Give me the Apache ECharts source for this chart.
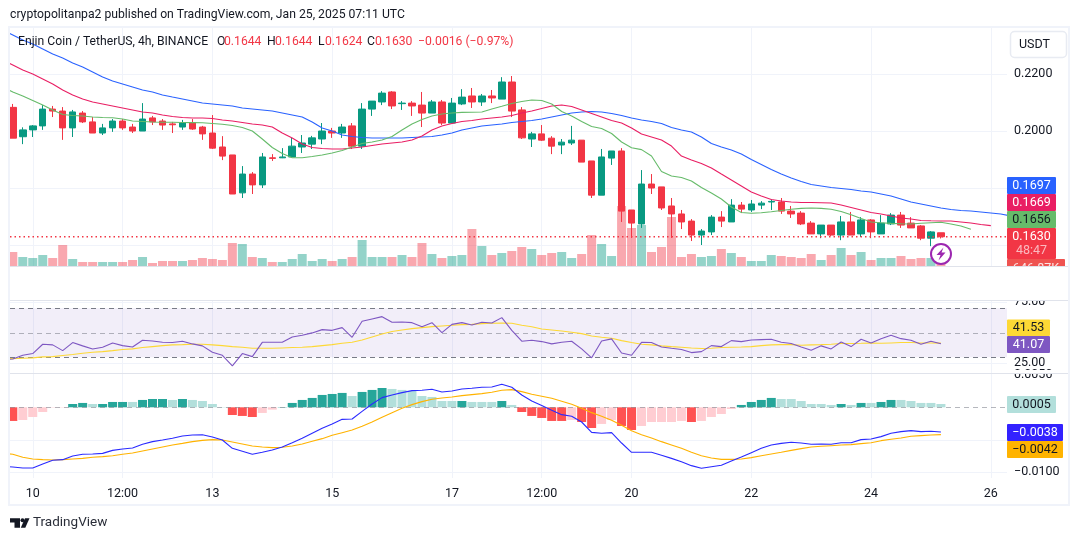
<!DOCTYPE html>
<html>
<head>
<meta charset="utf-8">
<style>html,body{margin:0;padding:0;background:#fff}#c{width:1080px;height:541px}</style>
<script src="https://cdn.jsdelivr.net/npm/echarts@6/dist/echarts.min.js"></script>
</head>
<body>
<div id="c"></div>
<script>
const tickSlots = [2,11,20,32,44,53,62,74,86,98];
const tickLabels = ['10','12:00','13','15','17','12:00','20','22','24','26'];

const opens = [.2084,.1981,.2005,.2019,.2078,.2071,.2012,.2064,.2033,.1994,
.2012,.2036,.2015,.2001,.2047,.2036,.2026,.2015,.2029,.2015,
.1994,.1945,.1917,.1784,.1850,.1812,.1907,.1907,.1910,.1945,
.1955,.1973,.2001,.1994,.2019,.1948,.2078,.2103,.2138,.2097,
.2099,.2092,.2064,.2103,.2029,.2096,.2124,.2103,.2124,.2113,
.2173,.2075,.1973,.1991,.1976,.1952,.1959,.1969,.1896,.1776,
.1906,.1931,.1724,.1675,.1815,.1805,.1738,.1710,.1685,.1636,
.1647,.1699,.1682,.1741,.1724,.1741,.1752,.1752,.1720,.1713,
.1678,.1640,.1671,.1636,.1682,.1640,.1689,.1640,.1675,.1706,
.1678,.1668,.1625,.1644];
const closes = [.1976,.2005,.2019,.2078,.2071,.2012,.2068,.2033,.1994,.2012,
.2036,.2012,.2001,.2043,.2033,.2022,.2023,.2029,.2008,.1991,
.1941,.1913,.1780,.1850,.1812,.1910,.1905,.1910,.1948,.1959,
.1977,.2001,.1994,.2015,.1948,.2078,.2106,.2134,.2089,.2099,
.2089,.2064,.2103,.2029,.2099,.2120,.2103,.2124,.2117,.2173,
.2071,.1977,.1991,.1969,.1948,.1962,.1969,.1892,.1776,.1910,
.1931,.1720,.1678,.1815,.1801,.1731,.1710,.1682,.1636,.1650,
.1699,.1685,.1741,.1727,.1745,.1748,.1754,.1720,.1710,.1675,
.1640,.1671,.1636,.1682,.1636,.1689,.1647,.1678,.1706,.1671,
.1661,.1625,.1647,.1630];
const highs = [.2096,.2014,.2022,.2092,.2089,.2085,.2075,.2071,.2050,.2026,
.2043,.2043,.2026,.2099,.2054,.2043,.2033,.2040,.2043,.2019,
.2057,.1983,.1917,.1878,.1857,.1924,.1920,.1941,.1977,.1987,
.1984,.2029,.2012,.2026,.2029,.2099,.2106,.2141,.2141,.2106,
.2106,.2138,.2110,.2110,.2117,.2148,.2152,.2131,.2145,.2190,
.2194,.2085,.1998,.2022,.1983,.1973,.2019,.1969,.1896,.1938,
.1931,.1941,.1724,.1864,.1850,.1805,.1766,.1724,.1692,.1657,
.1706,.1720,.1762,.1752,.1759,.1755,.1762,.1766,.1738,.1720,
.1685,.1671,.1671,.1703,.1717,.1699,.1692,.1706,.1713,.1717,
.1699,.1671,.1650,.1644];
const lows = [.1976,.1955,.1980,.2005,.2050,.1970,.1980,.2029,.1994,.1987,
.1998,.2005,.1994,.2001,.2022,.2005,.1994,.2005,.2005,.1970,
.1938,.1899,.1780,.1766,.1780,.1801,.1896,.1906,.1910,.1924,
.1938,.1955,.1977,.1977,.1938,.1938,.2054,.2092,.2078,.2075,
.2054,.2015,.2064,.2022,.2029,.2092,.2082,.2089,.2099,.2113,
.2050,.1973,.1945,.1966,.1920,.1920,.1952,.1892,.1766,.1776,
.1882,.1682,.1626,.1661,.1780,.1724,.1626,.1657,.1615,.1601,
.1636,.1664,.1682,.1713,.1717,.1727,.1724,.1710,.1696,.1671,
.1640,.1625,.1632,.1618,.1636,.1629,.1625,.1640,.1671,.1661,
.1661,.1618,.1597,.1624];

const volumes = [4.2,2.7,2.4,3.3,2.4,6.3,2.1,1.2,1.2,1.2,
1.2,1.2,1.8,2.7,.9,1.5,1.5,1.5,1.8,2.4,
2.1,1.8,6.9,6.6,2.7,2.4,1.2,1.2,2.1,3.6,
1.5,2.1,1.5,2.1,2.7,7.8,2.7,2.7,2.7,3.3,
2.7,6.9,3.6,2.4,3,3.3,11.1,6,3.3,3.9,
4.5,5.7,5.1,3.3,3.9,4.2,2.4,3.6,9.3,6.6,
3,18,11.4,12.3,4.2,5.7,14.7,2.7,3.6,2.7,
3,5.1,3.9,2.7,1.5,1.5,3.3,3,2.7,2.4,
3.6,1.8,3.3,5.4,3.3,4.2,1.8,2.4,2.4,3,
2.1,2.4,2.4,.65];

// Williams Alligator, shifted forward: first value sits one slot before the first candle
const jaw = [.23554,.23379,.23203,.23063,.22888,.22712,.22572,.22396,.22256,.22081,.21905,
.21765,.2166,.21554,.21449,.21379,.21274,.21203,.21133,.21063,.20993,
.20958,.20923,.20888,.20817,.20782,.20747,.20712,.20642,.20572,.20502,
.20326,.20116,.20011,.1987,.19817,.19782,.19765,.19765,.19765,.19765,
.19782,.198,.19817,.1987,.1994,.20046,.20116,.20186,.20221,.20256,
.20309,.20344,.20379,.20432,.20502,.20572,.20642,.20677,.20695,.20677,
.20624,.20554,.20467,.20396,.20344,.20274,.20133,.20046,.19975,.198,
.19572,.19449,.19344,.19203,.1901,.18835,.1866,.18501,.18361,.18239,
.18133,.18081,.18028,.17993,.17958,.17905,.1787,.178,.1773,.17625,
.17519,.17449,.17379,.17309,.17256,.17221,.17203,.17168,.17133,.17098,
.17028,.1697];
const teeth = [.22502,.22326,.22151,.2201,.21835,.2166,.21449,.21274,.21133,.21028,.20958,
.20888,.20817,.20747,.20677,.20642,.20572,.20519,.20484,.20467,.20467,
.20449,.20396,.20361,.20309,.20256,.20221,.20151,.1994,.19765,.19554,
.19432,.19396,.19379,.19379,.19414,.19449,.19502,.19554,.19589,.19625,
.19695,.19835,.20046,.20186,.20274,.20344,.20379,.20432,.20467,.20502,
.20554,.20642,.20712,.208,.20888,.20923,.2087,.20747,.20624,.20502,
.20379,.20291,.20116,.19905,.198,.19695,.19484,.19133,.18993,.1887,
.18712,.18501,.18291,.18081,.1787,.1773,.17607,.17554,.17519,.17502,
.17502,.17495,.17484,.17414,.17326,.17238,.1715,.17098,.17028,.16958,
.16923,.1687,.1686,.16853,.16853,.16818,.16783,.1673,.1669];
const lips = [.21554,.21379,.21239,.21081,.20923,.20747,.20589,.20554,.20537,.20502,.20484,
.20477,.20432,.20361,.20344,.20326,.20319,.20316,.20309,.20305,.20298,
.20274,.20246,.20203,.20133,.20011,.1973,.19432,.19221,.19074,.19074,
.19116,.19168,.19239,.19326,.19449,.19572,.19625,.19695,.19817,.20046,
.20256,.20414,.20537,.20607,.20642,.20663,.20667,.20677,.20782,.20877,
.20975,.21046,.21098,.21081,.20958,.20695,.20537,.20344,.20168,.20098,
.19923,.19625,.19425,.19358,.19133,.18589,.18431,.18379,.18256,.18028,
.17835,.17625,.17344,.17151,.17123,.1714,.17175,.17221,.17267,.17295,
.17309,.17295,.17267,.17186,.17073,.1694,.16817,.16789,.16768,.16754,
.16747,.16772,.16793,.16807,.16747,.16677,.1656];

// indicator lines also start one slot before the first candle
const rsi = [27.8,28.6,31.6,33,40.6,40.1,35.4,42,39.3,36.8,38.2,
41.7,39.5,38.4,43.9,43.3,42.2,42,43.1,40.9,39.3,
34.1,31.6,22.9,33,30.5,42.2,42.2,42.2,46.6,48,
49.9,52.6,52,54.2,46.3,59.4,61.3,63.2,58.6,58.8,
58.3,55,58.3,50.1,56.9,58.3,56.4,58.6,58,62.4,
52,43.1,43.9,42.8,40.9,42.2,43.1,36.8,29.5,43.3,
45,33.5,31.6,42.2,42,38.4,37.3,36.3,33.8,34.6,
39.5,38.7,43.6,42.8,44.1,44.4,44.7,42.2,41.2,38.4,
35.7,39.3,36.8,42.5,38.7,44.7,41.7,45.2,48,45.2,
43.9,40.6,43.1,41.07];
const rsiAvg = [28.8,28.9,29.2,29.5,30.3,30.5,31.4,32.2,33.3,34.1,34.6,
35.4,36.3,36.8,37.9,38.7,39.5,40.1,40.3,40.6,40.6,
40.1,39.5,38.7,38.2,37.3,37.3,37.3,37.6,37.9,38.2,
38.7,39.5,40.3,41.4,42.2,44.1,46.6,49,51,52.3,
53.4,54.2,55,55.6,56.1,56.7,56.9,57.5,57.8,58,
57.8,56.1,55,53.1,52.3,51.5,50.4,49.3,47.4,46.3,
45.5,43.6,42,40.6,40.1,39.3,38.7,38.2,37.6,37.1,
37.3,37.9,38.2,38.4,38.7,39.5,40.1,40.3,40.3,39.8,
40.1,40.3,40.6,41.2,41.2,41.4,41.7,41.4,41.7,42,
42,41.7,41.7,41.53];

const macdHist = [-.0021,-.00195,-.00149,-.00072,-.00005,-.00005,.00051,.00067,.00051,.00051,
.00082,.00082,.00082,.00113,.00128,.00128,.00113,.00128,.00113,.00097,
.00051,.00005,-.00118,-.00133,-.00149,-.00087,-.00036,.00005,.00067,.00113,
.00144,.0019,.00205,.00221,.00174,.00236,.00267,.00297,.00282,.00267,
.00251,.00174,.00159,.00097,.00097,.00097,.00082,.00082,.00082,.00097,
.00036,-.00072,-.00133,-.00164,-.0021,-.0021,-.00195,-.00226,-.00318,-.00256,
-.00195,-.00287,-.00349,-.00287,-.00226,-.00226,-.00226,-.0021,-.00226,-.0021,
-.00149,-.00103,-.00026,.00036,.00082,.00113,.00144,.00128,.00128,.00097,
.00051,.00051,.00036,.00051,.00036,.00067,.00067,.00082,.00113,.00113,
.00097,.00067,.00067,.00051];
const macdHistStrong = [1,0,0,0,0,0,1,1,0,1,1,1,0,1,1,1,0,1,0,0,0,0,1,1,1,0,0,1,1,1,
1,1,1,1,0,1,1,1,0,0,0,0,0,0,0,1,0,0,0,1,0,1,1,1,1,1,0,1,1,0,
0,1,1,0,0,0,0,0,1,0,0,0,0,1,1,1,1,0,0,0,0,0,0,1,0,1,0,1,1,0,
0,0,0,0];
const macdLine = [-.00908,-.00918,-.00933,-.00933,-.00872,-.00815,-.00805,-.00749,-.00723,-.00718,-.00708,
-.00662,-.00641,-.00626,-.00569,-.00528,-.00503,-.00477,-.00441,-.00426,-.00421,
-.00456,-.00503,-.00631,-.00677,-.00723,-.00692,-.00656,-.0061,-.00544,-.00477,
-.004,-.00323,-.00256,-.00185,-.00179,-.00062,.00051,.00149,.0019,.00226,
.00256,.00262,.00277,.00236,.00251,.00282,.00292,.00308,.00313,.00354,
.00308,.0019,.00097,.00026,-.00046,-.00113,-.00138,-.00226,-.00385,-.004,
-.0039,-.00549,-.00692,-.00692,-.00692,-.00738,-.00785,-.00836,-.00897,-.00938,
-.00913,-.00892,-.00826,-.00764,-.00697,-.00631,-.00579,-.00554,-.00538,-.00549,
-.00569,-.00564,-.00569,-.00544,-.00544,-.00497,-.00487,-.00451,-.004,-.00374,
-.00359,-.00374,-.00369,-.0038];
const macdSignal = [-.00703,-.00723,-.00769,-.00795,-.00805,-.0081,-.00805,-.00795,-.00785,-.00769,-.00759,
-.00744,-.00723,-.00703,-.00672,-.00641,-.0061,-.00579,-.00554,-.00528,-.00508,
-.00497,-.00503,-.00533,-.00564,-.00595,-.0061,-.0062,-.00615,-.00595,-.00564,
-.00523,-.00482,-.00431,-.0039,-.00349,-.00292,-.00226,-.00154,-.00082,-.00015,
.00041,.00087,.00123,.00144,.00159,.00179,.00195,.0021,.00231,.00262,
.00272,.00241,.002,.00169,.00138,.00092,.00046,-.00015,-.00082,-.00138,
-.002,-.00277,-.00359,-.00421,-.00472,-.00528,-.00579,-.00631,-.00692,-.00744,
-.00779,-.008,-.008,-.00795,-.00774,-.00744,-.00718,-.00692,-.00662,-.00636,
-.0061,-.006,-.0059,-.00579,-.00574,-.00559,-.00544,-.00513,-.00492,-.00472,
-.00446,-.00436,-.00426,-.0042];

const priceLabels = [0.22, 0.2];
const priceGrid = [0.22, 0.2, 0.18, 0.16];
const rsiLabels = [75, 25];
const macdLabels = [0.005, -0.01];
const macdGrid = [-0.005, -0.01];

const UP = '#089981', DOWN = '#F23645', GRID = '#f0f3fa', INK = '#131722', FONT = 'Roboto, sans-serif';
const LEFT = 10, RIGHT = 73, LINE_W = 1.1, HEAD = 12.2;
const XMIN = -0.28, XMAX = 99.62;

function xAxis(gridIndex, opts) {
  return Object.assign({
    type: 'value', gridIndex, min: XMIN, max: XMAX,
    axisLine: {show:false},
    axisTick: {show:false, customValues: tickSlots},
    axisLabel: {show:false},
    splitLine: {show:true, lineStyle:{color:GRID, width:1}}
  }, opts || {});
}
function yAxis(gridIndex, min, max, grid, labels, fmt) {
  return {
    type:'value', gridIndex, min, max, position:'right', scale:true,
    axisLine:{show:false},
    axisTick:{show:false, customValues:grid},
    axisLabel:{show:!!labels, customValues:labels||undefined, color:INK, fontFamily:FONT, fontSize:12.5, margin:7, padding:[2,0,0,0], formatter:fmt},
    splitLine:{show:true, lineStyle:{color:GRID, width:1}}
  };
}
const pts = (arr, start) => arr.map((v,i)=>[i+start, v]);
function line(name, arr, start, color, xi, yi, z) {
  return {name, type:'line', xAxisIndex:xi, yAxisIndex:yi, data:pts(arr,start), showSymbol:false, symbol:'none',
    lineStyle:{color, width:LINE_W}, itemStyle:{color}, z:z||5, silent:true, animation:false};
}

function tag(cfg) {
  const els = [{type:'rect', shape:{x:cfg.x, y:cfg.y, width:cfg.w, height:cfg.h, r:1}, style:{fill:cfg.bg}, z:50}];
  (cfg.texts||[]).forEach(t=>els.push({type:'text', z:51, style:{x:cfg.x+cfg.w/2, y:t.y, text:t.text, fill:t.fill, font:'12.5px '+FONT, textAlign:'center', textVerticalAlign:'middle'}}));
  return els;
}
function txt(x,y,text,fill,size,extra){
  return Object.assign({type:'text', z:51, style:{x,y,text,fill:fill||INK,font:(size||12)+'px '+FONT,textAlign:'left',textVerticalAlign:'middle'}},extra||{});
}
const graphics = [].concat(
  tag({x:1007,y:259,w:58,h:8,bg:'#EF5350',texts:[]}),
  tag({x:1007,y:177,w:49,h:17,bg:'#2962FF',texts:[{y:185.5,text:'0.1697',fill:'#fff'}]}),
  tag({x:1007,y:194,w:49,h:17,bg:'#E91E63',texts:[{y:202.5,text:'0.1669',fill:'#fff'}]}),
  tag({x:1007,y:211,w:49,h:17,bg:'#66BB6A',texts:[{y:219.5,text:'0.1656',fill:INK}]}),
  tag({x:1007,y:228,w:49,h:31,bg:'#F23645',texts:[{y:236.7,text:'0.1630',fill:'#fff'},{y:251,text:'48:47',fill:'rgba(255,255,255,0.65)'}]}),
  tag({x:1007,y:319.5,w:43,h:16.5,bg:'#FDD835',texts:[{y:328,text:'41.53',fill:INK}]}),
  tag({x:1007,y:336,w:43,h:17,bg:'#7E57C2',texts:[{y:344.7,text:'41.07',fill:'#fff'}]}),
  tag({x:1007,y:396,w:49,h:17,bg:'#B2DFDB',texts:[{y:404.6,text:'0.0005',fill:INK}]}),
  tag({x:1007,y:424,w:56,h:17,bg:'#3322FF',texts:[{y:432.7,text:'\u22120.0038',fill:'#fff'}]}),
  tag({x:1007,y:441,w:56,h:17,bg:'#FFB300',texts:[{y:450,text:'\u22120.0042',fill:INK}]}),
  [
   {type:'text', z:52, style:{x:1036,y:262,text:'646.87K',fill:'rgba(255,255,255,0.85)',font:'12.5px '+FONT,textAlign:'center',textVerticalAlign:'top'}},
   {type:'rect', z:53, shape:{x:1007,y:266.5,width:62,height:14}, style:{fill:'#fff'}},
   {type:'rect', z:30, shape:{x:1010,y:290,width:58,height:10.5}, style:{fill:'#fff'}},
   {type:'rect', z:30, shape:{x:1010,y:370,width:58,height:3.5}, style:{fill:'#fff'}},
   {type:'line', z:54, shape:{x1:10,y1:266.5,x2:1069,y2:266.5}, style:{stroke:'#e0e3eb',lineWidth:1}},
   {type:'line', z:54, shape:{x1:10,y1:300.5,x2:1069,y2:300.5}, style:{stroke:'#e0e3eb',lineWidth:1}},
   {type:'line', z:54, shape:{x1:10,y1:373.5,x2:1069,y2:373.5}, style:{stroke:'#e0e3eb',lineWidth:1}},
   {type:'rect', z:55, shape:{x:9,y:27,width:1060,height:478}, style:{fill:'none',stroke:GRID,lineWidth:2}},
   {type:'rect', z:45, shape:{x:1010.5,y:31.5,width:56,height:26,r:4}, style:{fill:'#fff',stroke:'#e8ebf2',lineWidth:1.5}},
   txt(1019,45,'USDT',INK,12.5),
   txt(10,15,'cryptopolitanpa2 published on TradingView.com, Jan 25, 2025 07:11 UTC',INK,HEAD),
   txt(18,42,'Enjin Coin / TetherUS, 4h, BINANCE',INK,HEAD),
   txt(217,42,'O',INK,HEAD), txt(224,42,'0.1644',DOWN,HEAD),
   txt(267,42,'H',INK,HEAD), txt(275,42,'0.1644',DOWN,HEAD),
   txt(318,42,'L',INK,HEAD), txt(325,42,'0.1624',DOWN,HEAD),
   txt(367,42,'C',INK,HEAD), txt(375,42,'0.1630',DOWN,HEAD),
   txt(418,42,'\u22120.0016 (\u22120.97%)',DOWN,HEAD),
   {type:'circle', z:46, shape:{cx:941,cy:254,r:10}, style:{fill:'#fff',stroke:'#9C27B0',lineWidth:2}},
   {type:'polygon', z:47, shape:{points:[[943.5,247.5],[936.5,255],[940.5,255],[938.5,260.5],[945.5,252.5],[941.5,252.5]]}, style:{fill:'#9C27B0'}},
   {type:'polygon', z:47, shape:{points:[[10,518.3],[20,518.3],[20,527.7],[14.5,527.7],[14.5,522.5],[10,522.5]]}, style:{fill:INK}},
   {type:'circle', z:47, shape:{cx:22.5,cy:520.3,r:2}, style:{fill:INK}},
   {type:'polygon', z:47, shape:{points:[[25,518.3],[29.5,518.3],[25.3,527.7],[20.8,527.7]]}, style:{fill:INK}},
   txt(33,523,'TradingView','#2a2e39',13.5)
  ]
);

const candleData = opens.map((o,i)=>[i,o,closes[i],lows[i],highs[i]]);
const volData = volumes.map((v,i)=>({value:[i,v], itemStyle:{color: closes[i]>=opens[i]?'rgba(8,153,129,0.43)':'rgba(242,54,69,0.43)'}}));
const histData = macdHist.map((v,i)=>{
  const strong = macdHistStrong[i];
  const c = v>=0 ? (strong?'#26A69A':'#B2DFDB') : (strong?'#FF5252':'#FFCDD2');
  return {value:[i,v], itemStyle:{color:c}};
});
const lastClose = closes[closes.length-1];

const option = {
  animation:false,
  backgroundColor:'#fff',
  textStyle:{fontFamily:FONT},
  grid:[
    {left:LEFT,right:RIGHT,top:28,height:238},
    {left:LEFT,right:RIGHT,top:166,height:100},
    {left:LEFT,right:RIGHT,top:301,height:72},
    {left:LEFT,right:RIGHT,top:374,height:104}
  ],
  xAxis:[
    xAxis(0),
    xAxis(1,{splitLine:{show:false}}),
    xAxis(2),
    xAxis(3,{axisLabel:{show:true,customValues:tickSlots,color:INK,fontFamily:FONT,fontSize:12.5,margin:9,
      formatter:v=>tickLabels[tickSlots.indexOf(v)]||''}})
  ],
  yAxis:[
    yAxis(0,0.15274,0.23625,priceGrid,priceLabels,v=>v.toFixed(4)),
    {type:'value',gridIndex:1,min:0,max:30,show:false,splitLine:{show:false}},
    yAxis(2,17.1,76,rsiLabels,rsiLabels,v=>v.toFixed(2)),
    yAxis(3,-0.01087,0.00512,macdGrid,macdLabels,v=>(v<0?'\u2212':'')+Math.abs(v).toFixed(4))
  ],
  series:[
    {name:'Volume',type:'bar',xAxisIndex:1,yAxisIndex:1,data:volData,barWidth:9,z:2,silent:true},
    {name:'Last price',type:'line',xAxisIndex:0,yAxisIndex:0,data:[[XMIN,lastClose],[XMAX,lastClose]],showSymbol:false,symbol:'none',z:4,silent:true,
      lineStyle:{color:DOWN,width:1.3,type:[1.5,3]},itemStyle:{color:DOWN}},
    {name:'ENJUSDT',type:'candlestick',xAxisIndex:0,yAxisIndex:0,data:candleData,encode:{x:0,y:[1,2,3,4]},barWidth:7,z:3,silent:true,
      itemStyle:{color:UP,color0:DOWN,borderColor:UP,borderColor0:DOWN,borderWidth:1}},
    line('Jaw',jaw,-1,'#2962FF',0,0),
    line('Teeth',teeth,-1,'#E91E63',0,0),
    line('Lips',lips,-1,'#66BB6A',0,0),
    Object.assign(line('RSI',rsi,-1,'#7E57C2',2,2,6),{
      markArea:{silent:true,animation:false,itemStyle:{color:'rgba(126,87,194,0.1)'},data:[[{yAxis:70},{yAxis:30}]]},
      markLine:{silent:true,symbol:'none',label:{show:false},animation:false,
        data:[{yAxis:70,lineStyle:{color:'#787B86',type:[5,4],width:1}},
              {yAxis:50,lineStyle:{color:'rgba(120,123,134,0.55)',type:[5,4],width:1}},
              {yAxis:30,lineStyle:{color:'#787B86',type:[5,4],width:1}}]}
    }),
    line('RSI MA',rsiAvg,-1,'#FDD835',2,2,5),
    {name:'Histogram',type:'bar',xAxisIndex:3,yAxisIndex:3,data:histData,barWidth:9,z:2,silent:true,
      markLine:{silent:true,symbol:'none',label:{show:false},animation:false,
        lineStyle:{color:'rgba(120,123,134,0.55)',type:[5,4],width:1},data:[{yAxis:0}]}},
    line('MACD',macdLine,-1,'#2A2AFF',3,3,6),
    line('Signal',macdSignal,-1,'#FFB300',3,3,5)
  ],
  graphic:{elements:graphics}
};
const chart = echarts.init(document.getElementById('c'),null,{renderer:'canvas'});
chart.setOption(option);
</script>
</body>
</html>
